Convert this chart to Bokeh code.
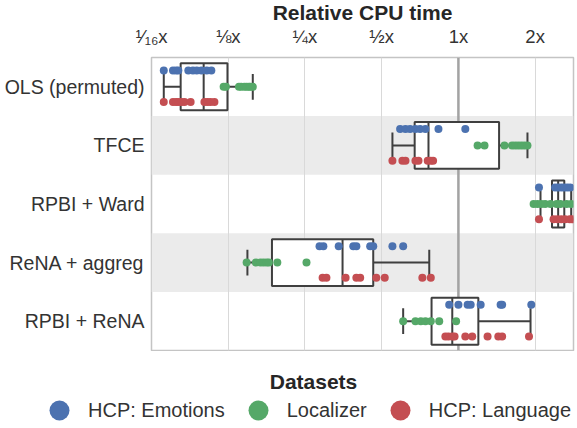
import numpy as np
from bokeh.plotting import figure
from bokeh.layouts import column
from bokeh.models import (ColumnDataSource, FactorRange, Range1d, FixedTicker,
                          Span, Legend, LegendItem, Label)
from bokeh.transform import dodge
from bokeh.embed import file_html
from bokeh.resources import INLINE

# ---------------- data (log2 of relative CPU time) ----------------
categories = ["OLS (permuted)", "TFCE", "RPBI + Ward", "ReNA + aggreg", "RPBI + ReNA"]
datasets = ["HCP: Emotions", "Localizer", "HCP: Language"]
colors = ["#4c72b0", "#55a868", "#c44e52"]

emotions_log2 = {
    "OLS (permuted)": [-3.84, -3.72, -3.68, -3.65, -3.52, -3.46, -3.41, -3.35, -3.28, -3.22],
    "TFCE": [-0.76, -0.69, -0.63, -0.56, -0.50, -0.43, -0.26, 0.09],
    "RPBI + Ward": [1.05, 1.26, 1.30, 1.34, 1.38, 1.42, 1.46],
    "ReNA + aggreg": [-1.81, -1.76, -1.56, -1.37, -1.33, -1.15, -1.11, -0.86, -0.72],
    "RPBI + ReNA": [-0.12, 0.00, 0.12, 0.16, 0.29, 0.55, 0.57, 0.95],
}
localizer_log2 = {
    "OLS (permuted)": [-3.06, -3.03, -2.86, -2.83, -2.79, -2.76, -2.73, -2.71, -2.68],
    "TFCE": [0.25, 0.34, 0.60, 0.70, 0.74, 0.78, 0.82, 0.86, 0.90],
    "RPBI + Ward": [0.98, 1.03, 1.08, 1.13, 1.20, 1.28, 1.33, 1.41, 1.47],
    "ReNA + aggreg": [-2.76, -2.64, -2.58, -2.54, -2.50, -2.47, -2.36, -1.98],
    "RPBI + ReNA": [-0.72, -0.56, -0.49, -0.43, -0.36, -0.25, -0.03],
}
language_log2 = {
    "OLS (permuted)": [-3.84, -3.72, -3.68, -3.65, -3.61, -3.57, -3.49, -3.31, -3.27, -3.23, -3.18],
    "TFCE": [-0.86, -0.73, -0.69, -0.56, -0.52, -0.40, -0.36, -0.33],
    "RPBI + Ward": [1.05, 1.24, 1.29, 1.34, 1.39, 1.45, 1.48],
    "ReNA + aggreg": [-1.77, -1.72, -1.47, -1.33, -1.28, -1.07, -0.96, -0.47, -0.36],
    "RPBI + ReNA": [-0.17, -0.13, -0.08, -0.05, 0.09, 0.18, 0.38, 0.52, 0.57, 0.92],
}

box_q1_log2 = [-3.62, -0.57, 1.22, -2.43, -0.35]
box_median_log2 = [-3.32, -0.39, 1.30, -1.51, -0.08]
box_q3_log2 = [-3.01, 0.53, 1.38, -1.11, 0.26]
whisker_low_log2 = [-3.84, -0.86, 1.07, -2.75, -0.72]
whisker_high_log2 = [-2.68, 0.90, 1.47, -0.38, 0.94]

tick_values = [1 / 16, 1 / 8, 1 / 4, 1 / 2, 1, 2]
tick_labels = ["\u00b9\u2044\u2081\u2086x", "\u215bx", "\u00bcx", "\u00bdx", "1x", "2x"]
shaded_rows = ["TFCE", "ReNA + aggreg"]

# ---------------- main figure ----------------
FONT = "Liberation Sans"
TXT = "#333333"

p = figure(width=577, height=351, x_axis_type="log",
           x_range=Range1d(2 ** -4, 2 ** 1.5),
           y_range=FactorRange(factors=list(reversed(categories))),
           x_axis_location="above", output_backend="svg", toolbar_location=None,
           min_border_left=151, min_border_right=4, min_border_top=0,
           min_border_bottom=1, background_fill_color="white",
           border_fill_color="white", frame_align=False)

p.title.text = "Relative CPU time"
p.title.align = "center"
p.title.standoff = -3
p.title.text_font = FONT
p.title.text_font_size = "21px"
p.title.text_font_style = "bold"
p.title.text_color = "#262626"

p.outline_line_color = "#c4c4c4"
p.outline_line_width = 1.5

# shaded row bands
p.hbar(y=shaded_rows, left=p.x_range.start, right=p.x_range.end, height=1,
       fill_color="#ebebeb", line_color=None, level="image")

p.ygrid.grid_line_color = None
p.xgrid.ticker = FixedTicker(ticks=tick_values)
p.xgrid.grid_line_color = "#d9d9d9"
p.xgrid.grid_line_width = 1

p.add_layout(Span(location=1, dimension="height", line_color="#a3a3a3",
                  line_width=2.5, level="underlay"))

# top axis
xa = p.xaxis[0]
xa.ticker = FixedTicker(ticks=tick_values)
xa.major_label_overrides = dict(zip(tick_values, tick_labels))
xa.axis_line_color = None
xa.major_tick_line_color = None
xa.minor_tick_line_color = None
xa.major_tick_out = 0
xa.major_tick_in = 0
xa.major_label_standoff = 11
xa.major_label_text_font = FONT
xa.major_label_text_font_size = "18.5px"
xa.major_label_text_color = TXT

# left axis
ya = p.yaxis[0]
ya.axis_line_color = None
ya.major_tick_line_color = None
ya.minor_tick_line_color = None
ya.major_tick_out = 0
ya.major_tick_in = 0
ya.major_label_standoff = 7
ya.major_label_text_font = FONT
ya.major_label_text_font_size = "19.5px"
ya.major_label_text_color = TXT

# ---------------- boxes ----------------
box_src = ColumnDataSource(dict(
    cat=categories,
    q1=np.power(2.0, box_q1_log2),
    med=np.power(2.0, box_median_log2),
    q3=np.power(2.0, box_q3_log2),
    wl=np.power(2.0, whisker_low_log2),
    wh=np.power(2.0, whisker_high_log2),
))
BOXC = "#3f3f3f"
p.segment(x0="wl", y0="cat", x1="q1", y1="cat", source=box_src, line_color=BOXC, line_width=2)
p.segment(x0="q3", y0="cat", x1="wh", y1="cat", source=box_src, line_color=BOXC, line_width=2)
for col in ["wl", "wh"]:
    p.segment(x0=col, y0=dodge("cat", -0.22, range=p.y_range), x1=col,
              y1=dodge("cat", 0.22, range=p.y_range), source=box_src,
              line_color=BOXC, line_width=2)
p.hbar(y="cat", left="q1", right="q3", height=0.8, source=box_src,
       fill_color="white", line_color=BOXC, line_width=2)
p.segment(x0="med", y0=dodge("cat", -0.4, range=p.y_range), x1="med",
          y1=dodge("cat", 0.4, range=p.y_range), source=box_src,
          line_color=BOXC, line_width=2)

# ---------------- points ----------------
offsets = [0.28, 0.0, -0.26]
sources = []
for data, color, off in zip([emotions_log2, localizer_log2, language_log2], colors, offsets):
    xs, cs = [], []
    for c in categories:
        xs.extend(data[c])
        cs.extend([c] * len(data[c]))
    src = ColumnDataSource(dict(x=np.power(2.0, xs), cat=cs))
    sources.append(src)
    p.scatter(x="x", y=dodge("cat", off, range=p.y_range), source=src, size=8,
              fill_color=color, line_color=None)

# ---------------- legend strip ----------------
leg = figure(width=577, height=77, x_range=Range1d(0, 3),
             y_range=FactorRange(factors=categories),
             x_axis_location=None, y_axis_location=None, toolbar_location=None,
             output_backend="svg", min_border=0, outline_line_color=None,
             background_fill_color="white", border_fill_color="white",
             frame_align=False)
leg.xgrid.grid_line_color = None
leg.ygrid.grid_line_color = None
items = []
for d, color, src in zip(datasets, colors, sources):
    r = leg.scatter(x="x", y="cat", source=src, size=8, fill_color=color,
                    line_color=None, visible=False)
    items.append(LegendItem(label=d, renderers=[r]))
legend = Legend(items=items, orientation="horizontal", location=(34, -7),
                glyph_width=50, glyph_height=50, padding=0, margin=0, spacing=8,
                label_standoff=4, label_text_font=FONT, label_text_font_size="20px",
                label_text_color=TXT, border_line_color=None, background_fill_alpha=0,
                inactive_fill_alpha=0)
leg.add_layout(legend)
leg.add_layout(Label(x=313, y=47, x_units="screen", y_units="screen", text="Datasets",
                     text_align="center", text_baseline="middle", text_font=FONT,
                     text_font_size="21px", text_font_style="bold",
                     text_color="#262626"))

layout = column(p, leg, spacing=0)
open("out.html", "w").write(file_html(layout, INLINE))
